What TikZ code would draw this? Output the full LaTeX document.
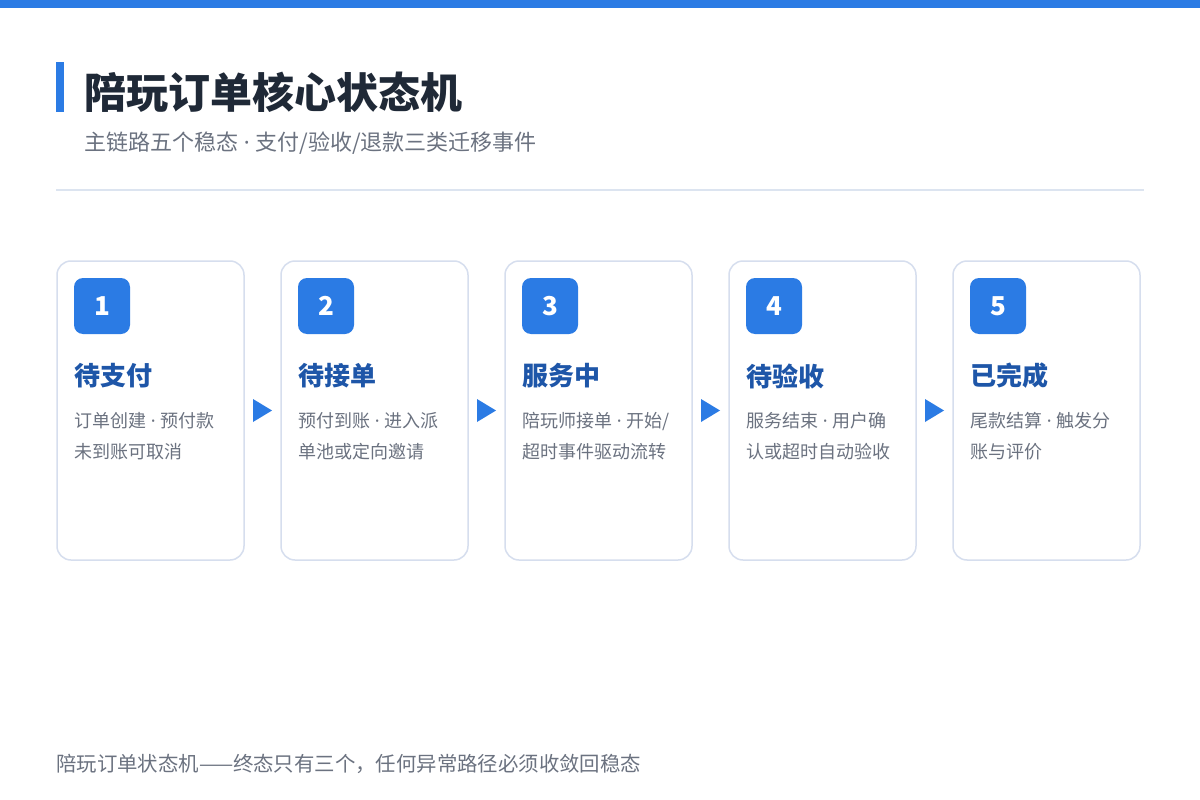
\documentclass[tikz,border=0pt]{standalone}
\usepackage{fontspec}
\setmainfont{Noto Sans CJK SC}
\newfontfamily\latinfont{Noto Sans}
\usepackage{tikz}
\usetikzlibrary{calc}
\definecolor{accent}{HTML}{2B7BE4}
\definecolor{headink}{HTML}{1F2937}
\definecolor{greyink}{HTML}{6B7280}
\definecolor{stateink}{HTML}{1E56A8}
\definecolor{cardline}{HTML}{D6DEEE}
\definecolor{ruleline}{HTML}{DCE4F0}
\newcommand{\sepdot}{{\latinfont\ ·\ }}
\tikzset{
  card/.style={draw=cardline, line width=1.5pt, rounded corners=14pt, fill=white,
    minimum width=187pt, minimum height=299pt, inner sep=0pt},
  badge/.style={fill=accent, rounded corners=9pt, minimum size=56pt, inner sep=0pt,
    text=white, font=\fontsize{26}{30}\selectfont\bfseries},
  statename/.style={anchor=west, inner sep=0pt, text=stateink,
    font=\fontsize{26}{30}\selectfont\bfseries},
  stateinfo/.style={anchor=west, inner sep=0pt, text=greyink,
    font=\fontsize{18}{22}\selectfont},
}

\begin{document}
\begin{tikzpicture}[x=1pt,y=-1pt]
\useasboundingbox[fill=white] (0,0) rectangle (1200,800);
\fill[accent] (0,0) rectangle (1200,8);
\fill[accent] (56,62) rectangle (64,112);
\node[anchor=west, inner sep=0pt, text=headink, font=\fontsize{42}{48}\selectfont\bfseries] (title) at (84,92) {陪玩订单核心状态机};
\node[anchor=west, inner sep=0pt, text=greyink, font=\fontsize{22}{26}\selectfont] (subtitle) at (84,143) {主链路五个稳态\sepdot 支付/验收/退款三类迁移事件};
\draw[ruleline, line width=2pt] (56,190) -- (1144,190);

\foreach \i/\name/\la/\lb in {1/待支付/订单创建\sepdot 预付款/未到账可取消,
  2/待接单/预付到账\sepdot 进入派/单池或定向邀请,
  3/服务中/{陪玩师接单\sepdot 开始/}/超时事件驱动流转,
  4/待验收/服务结束\sepdot 用户确/认或超时自动验收,
  5/已完成/尾款结算\sepdot 触发分/账与评价}{
  \node[card] (c\i) at ({150.5+224*(\i-1)},410.5) {};
  \node[badge] (b\i) at ({102+224*(\i-1)},306) {\i};
  \node[statename] (n\i) at ({74+224*(\i-1)},376) {\name};
  \node[stateinfo] (d\i a) at ({74+224*(\i-1)},421) {\la};
  \node[stateinfo] (d\i b) at ({74+224*(\i-1)},452) {\lb};
}

% arrows between the cards
\foreach \i [evaluate=\i as \j using int(\i+1)] in {1,...,4}{
  \coordinate (m\i) at ($(c\i.east)!0.5!(c\j.west)$);
  \fill[accent] ([xshift=-9.5pt,yshift=11.5pt]m\i) -- ([xshift=9.5pt]m\i) -- ([xshift=-9.5pt,yshift=-11.5pt]m\i) -- cycle;
}

\node[anchor=west, inner sep=0pt, text=greyink, font=\fontsize{20.4}{24}\selectfont] (footer) at (56,764) {陪玩订单状态机——终态只有三个，任何异常路径必须收敛回稳态};
\end{tikzpicture}
\end{document}
